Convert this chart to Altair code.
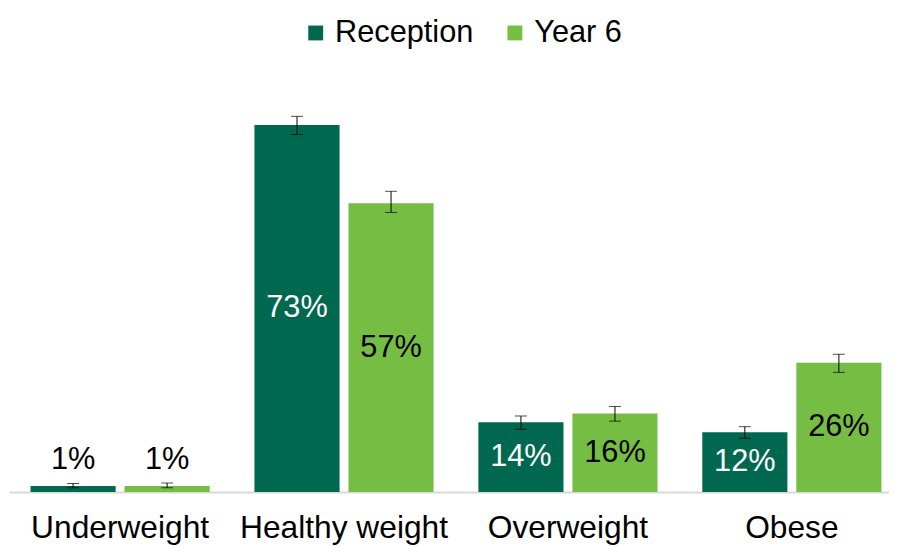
import altair as alt
import pandas as pd

categories = ["Underweight", "Healthy weight", "Overweight", "Obese"]
series_names = ["Reception", "Year 6"]
reception = [1.2, 73.0, 13.9, 11.9]
year6 = [1.2, 57.4, 15.6, 25.7]
reception_lo = [0.85, 71.1, 12.5, 10.7]
reception_hi = [1.7, 74.7, 15.1, 13.0]
year6_lo = [0.85, 55.6, 14.1, 23.8]
year6_hi = [1.8, 59.8, 17.0, 27.4]

rows = []
for i, c in enumerate(categories):
    rows.append(dict(category=c, series="Reception", value=reception[i], lo=reception_lo[i], hi=reception_hi[i]))
    rows.append(dict(category=c, series="Year 6", value=year6[i], lo=year6_lo[i], hi=year6_hi[i]))
df = pd.DataFrame(rows)

FONT = "Liberation Sans"
colors = ["#00684F", "#76BE43"]

x = alt.X("category:N", sort=categories,
          scale=alt.Scale(paddingInner=0.2, paddingOuter=0.065, align=0.74),
          axis=alt.Axis(title=None, labelAngle=0, ticks=False, domainColor="#d9d9d9",
                        domainWidth=2, labelFontSize=32, labelColor="black",
                        labelFont=FONT, labelPadding=21, labelLimit=0))
xo = alt.XOffset("series:N", sort=series_names, scale=alt.Scale(paddingInner=0.095))
yscale = alt.Scale(domain=[0, 80])

base = alt.Chart(df)

bars = base.mark_bar().encode(
    x=x, xOffset=xo,
    y=alt.Y("value:Q", scale=yscale, axis=None),
    color=alt.Color("series:N", sort=series_names,
                    scale=alt.Scale(domain=series_names, range=colors),
                    legend=alt.Legend(title=None, orient="none", legendX=294, legendY=-73,
                                      direction="horizontal", symbolType="square",
                                      symbolSize=225, symbolStrokeWidth=0,
                                      labelFontSize=31, labelFont=FONT, labelColor="black",
                                      columnPadding=26, labelOffset=4, labelLimit=0)),
)

rule = base.mark_rule(color="black", strokeWidth=1).encode(
    x=x, xOffset=xo,
    y=alt.Y("lo:Q", scale=yscale), y2="hi:Q")

cap_lo = base.mark_tick(color="black", thickness=1, size=12, orient="horizontal").encode(
    x=x, xOffset=xo, y=alt.Y("lo:Q", scale=yscale))
cap_hi = base.mark_tick(color="black", thickness=1, size=12, orient="horizontal").encode(
    x=x, xOffset=xo, y=alt.Y("hi:Q", scale=yscale))

labels_in = base.transform_filter(alt.datum.value >= 5).transform_calculate(
    mid="datum.value / 2", label="format(datum.value, '.0f') + '%'"
).mark_text(fontSize=31, font=FONT, baseline="middle").encode(
    x=x, xOffset=xo, y=alt.Y("mid:Q", scale=yscale), text="label:N",
    color=alt.condition(alt.datum.series == "Reception", alt.value("white"), alt.value("black")))

labels_out = base.transform_filter(alt.datum.value < 5).transform_calculate(
    label="format(datum.value, '.0f') + '%'"
).mark_text(fontSize=31, font=FONT, baseline="bottom", dy=-10, color="black").encode(
    x=x, xOffset=xo, y=alt.Y("value:Q", scale=yscale), text="label:N")

chart = alt.layer(bars, rule, cap_lo, cap_hi, labels_in, labels_out).properties(
    width=888, height=406,
    autosize=alt.AutoSizeParams(type="none"),
    padding={"left": 1, "top": 80, "right": 0, "bottom": 53},
).configure_view(stroke=None)

chart.save("out.html", embed_options={"renderer": "svg", "actions": False})
